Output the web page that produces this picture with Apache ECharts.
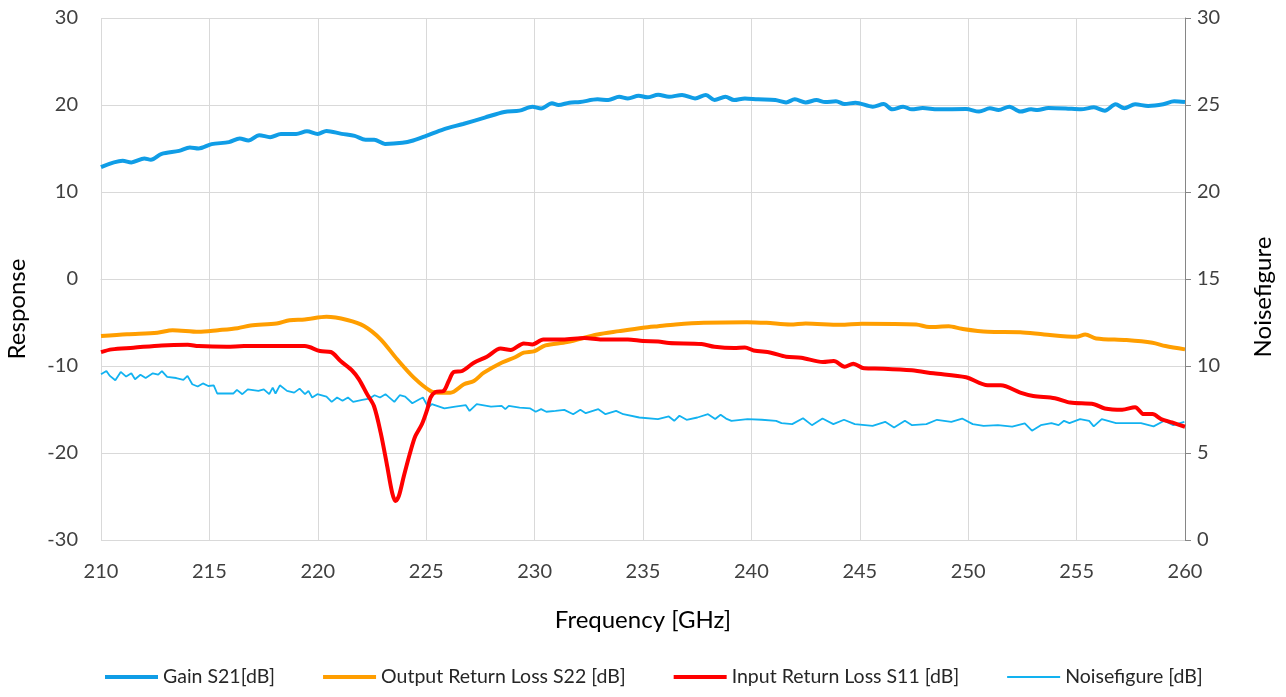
<!DOCTYPE html>
<html>
<head>
<meta charset="utf-8">
<script src="https://cdn.jsdelivr.net/npm/echarts@6/dist/echarts.min.js"></script>
<style>
html,body{margin:0;padding:0;background:#fff;}
#chart{width:1286px;height:697px;}
</style>
</head>
<body>
<div id="chart"></div>
<script>
const seriesNames = ["Gain S21[dB]", "Output Return Loss S22 [dB]", "Input Return Loss S11 [dB]", "Noisefigure [dB]"];
const xTicks = [210, 215, 220, 225, 230, 235, 240, 245, 250, 255, 260];

const gainFreq = [210,211.0,211.4,212.0,212.3,212.8,213.6,214.1,214.5,215.1,215.9,216.4,216.8,217.3,217.8,218.3,219.0,219.5,220.0,220.4,221.1,221.7,222.2,222.6,223.1,223.9,224.4,225.0,225.8,226.7,227.7,228.6,229.3,229.9,230.3,230.8,231.1,231.6,232.1,232.9,233.4,233.9,234.3,234.8,235.2,235.7,236.2,236.8,237.4,237.9,238.3,238.8,239.2,239.7,240.3,241.1,241.6,242.0,242.5,243.0,243.4,243.9,244.3,244.8,245.6,246.1,246.5,247.0,247.4,247.9,248.6,249.9,250.5,251.0,251.4,251.9,252.4,252.9,253.2,253.7,254.5,255.2,255.8,256.3,256.8,257.2,257.7,258.3,259.0,259.5,260.0];
const gainVal  = [12.86,13.59,13.4,13.85,13.7,14.39,14.73,15.11,15.0,15.5,15.73,16.15,15.92,16.53,16.3,16.68,16.68,16.98,16.68,17.02,16.68,16.45,16.0,16.0,15.53,15.65,15.92,16.45,17.2,17.82,18.55,19.2,19.35,19.8,19.6,20.2,20.0,20.27,20.34,20.65,20.57,20.95,20.76,21.07,20.88,21.18,20.95,21.15,20.76,21.15,20.57,20.95,20.57,20.76,20.65,20.57,20.3,20.65,20.3,20.57,20.34,20.42,20.11,20.27,19.81,20.11,19.5,19.81,19.5,19.66,19.5,19.54,19.24,19.62,19.43,19.81,19.24,19.5,19.43,19.66,19.6,19.5,19.73,19.35,20.08,19.62,20.08,19.89,20.08,20.42,20.34];

const s22Freq = [210,211.2,212.6,213.3,214.5,215.4,216.3,216.9,218.1,218.7,219.4,220.4,221.36,222.13,222.9,223.66,224.43,225.2,225.66,226.12,226.74,227.2,227.66,228.5,229.1,229.5,230.0,230.5,231.5,232.9,233.9,235.0,235.7,236.5,237.8,239.8,240.7,241.8,242.5,244.1,245.1,247.6,248.2,249.1,249.7,250.9,252.4,253.5,255.0,255.4,255.9,257.3,258.5,259.1,260.0];
const s22Val  = [-6.56,-6.34,-6.18,-5.88,-6.07,-5.88,-5.65,-5.34,-5.11,-4.73,-4.66,-4.35,-4.71,-5.4,-6.93,-9.23,-11.34,-12.87,-13.07,-13.07,-12.1,-11.72,-10.77,-9.6,-9.0,-8.47,-8.28,-7.63,-7.25,-6.37,-5.99,-5.6,-5.42,-5.23,-5.04,-4.96,-5.04,-5.23,-5.11,-5.27,-5.15,-5.23,-5.53,-5.42,-5.73,-6.07,-6.11,-6.37,-6.64,-6.37,-6.83,-7.02,-7.33,-7.71,-8.09];

const s11Freq = [210,210.5,211.5,212.8,214.0,214.5,215.8,216.6,217.8,219.4,220.1,220.6,221.05,221.6,221.9,222.28,222.59,222.9,223.2,223.43,223.59,223.74,223.97,224.28,224.5,224.8,225.05,225.2,225.43,225.8,226.04,226.27,226.66,227.2,227.8,228.43,228.9,229.5,229.9,230.4,231.3,232.3,233.1,234.3,235.0,235.7,236.2,237.7,238.3,239.2,239.7,240.1,240.9,241.6,242.3,243.3,243.8,244.3,244.7,245.2,246.1,247.4,248.4,249.9,250.9,251.5,252.4,253.0,254.0,254.7,255.8,256.3,257.1,257.7,258.1,258.5,258.9,259.4,260.0];
const s11Val  = [-8.4,-8.09,-7.9,-7.63,-7.56,-7.71,-7.79,-7.71,-7.71,-7.71,-8.28,-8.39,-9.43,-10.57,-11.53,-13.26,-14.6,-17.66,-21.5,-24.56,-25.52,-24.94,-22.64,-19.77,-18.05,-16.7,-14.98,-13.64,-12.99,-12.87,-11.72,-10.69,-10.57,-9.62,-8.93,-8.0,-8.16,-7.4,-7.52,-6.95,-6.95,-6.79,-6.95,-6.95,-7.14,-7.18,-7.37,-7.48,-7.79,-7.94,-7.86,-8.21,-8.47,-8.93,-9.05,-9.54,-9.43,-10.08,-9.73,-10.27,-10.31,-10.5,-10.84,-11.3,-12.21,-12.21,-13.05,-13.44,-13.7,-14.2,-14.39,-14.89,-15.04,-14.73,-15.53,-15.53,-16.1,-16.49,-16.98];

const nfFreq = [210.0,210.25,210.41,210.66,210.91,211.16,211.4,211.57,211.82,212.06,212.39,212.64,212.81,213.05,213.47,213.8,213.99,214.21,214.46,214.7,214.95,215.2,215.36,216.11,216.27,216.52,216.77,217.26,217.51,217.76,217.92,218.05,218.25,218.58,218.91,219.16,219.41,219.57,219.74,219.98,220.4,220.64,220.89,221.14,221.39,221.63,222.05,222.38,222.62,222.87,223.12,223.53,223.78,224.03,224.36,224.69,224.85,225.1,225.26,225.84,226.34,226.83,227.0,227.33,227.99,228.48,228.65,228.81,229.31,229.8,230.05,230.3,230.54,230.96,231.37,231.78,232.11,232.36,232.94,233.27,233.76,234.09,234.83,235.69,236.19,236.44,236.68,237.01,237.51,238.0,238.33,238.58,238.83,239.08,239.82,240.48,241.14,241.39,241.88,242.38,242.79,243.28,243.78,244.27,244.77,245.59,246.17,246.58,247.08,247.41,248.07,248.56,249.22,249.72,250.21,250.71,251.37,252.03,252.61,252.94,253.35,253.84,254.17,254.42,254.67,255.16,255.58,255.79,256.16,256.82,257.97,258.55,259.04,259.46,259.97];
const nfVal  = [9.52,9.71,9.43,9.18,9.66,9.39,9.58,9.24,9.5,9.31,9.58,9.5,9.71,9.37,9.31,9.2,9.43,8.95,8.82,9.0,8.85,8.89,8.42,8.42,8.63,8.38,8.66,8.57,8.66,8.38,8.76,8.42,8.89,8.57,8.47,8.7,8.38,8.57,8.19,8.38,8.24,7.94,8.19,8.0,8.19,7.94,8.05,8.13,8.32,8.19,8.38,7.94,8.32,8.24,7.86,8.09,8.19,7.61,7.81,7.56,7.67,7.75,7.42,7.81,7.67,7.71,7.52,7.71,7.61,7.56,7.37,7.52,7.37,7.42,7.48,7.23,7.48,7.29,7.52,7.23,7.42,7.23,7.04,6.95,7.1,6.85,7.14,6.91,7.04,7.23,6.95,7.2,6.98,6.85,6.95,6.91,6.85,6.72,6.66,7.0,6.6,6.98,6.66,6.91,6.66,6.56,6.79,6.47,6.85,6.6,6.66,6.91,6.79,6.98,6.66,6.56,6.6,6.51,6.7,6.28,6.6,6.72,6.6,6.85,6.72,6.95,6.85,6.53,6.95,6.72,6.72,6.53,6.85,6.6,6.79];

function zip(xs, ys) {
  const n = Math.min(xs.length, ys.length);
  const out = [];
  for (let i = 0; i < n; i++) out.push([xs[i], ys[i]]);
  return out;
}

const FONT = 'Lato, "Open Sans", sans-serif';
const THICK_ICON = 'path://M0,0 M0,3 L53,3 L53,7 L0,7 Z M53,10';
const THIN_ICON = 'path://M0,0 M0,4 L53,4 L53,6 L0,6 Z M53,10';

const chart = echarts.init(document.getElementById('chart'), null, {renderer: 'canvas'});
chart.setOption({
  backgroundColor: '#fff',
  animation: false,
  textStyle: {fontFamily: FONT},
  grid: {left: 101, right: 101, top: 18, bottom: 157, containLabel: false, outerBoundsMode: 'none'},
  legend: {
    data: [
      {name: seriesNames[0], icon: THICK_ICON},
      {name: seriesNames[1], icon: THICK_ICON},
      {name: seriesNames[2], icon: THICK_ICON},
      {name: seriesNames[3], icon: THIN_ICON}
    ],
    bottom: 5,
    left: 100,
    itemWidth: 53,
    itemHeight: 10,
    itemGap: 48,
    textStyle: {fontSize: 19.5, color: '#262626', fontFamily: FONT}
  },
  xAxis: {
    type: 'value', min: 210, max: 260, interval: 5,
    name: 'Frequency [GHz]', nameLocation: 'middle', nameGap: 68,
    nameTextStyle: {fontSize: 24, color: '#000', fontFamily: FONT},
    axisLine: {show: true, lineStyle: {color: '#d9d9d9'}},
    axisTick: {show: false},
    axisLabel: {fontSize: 20, color: '#404040', margin: 22, formatter: v => xTicks.indexOf(v) >= 0 ? String(v) : ''},
    splitLine: {show: true, lineStyle: {color: '#d9d9d9', width: 1}}
  },
  yAxis: [{
    type: 'value', min: -30, max: 30, interval: 10, position: 'left',
    name: 'Response', nameLocation: 'middle', nameGap: 72, nameRotate: 90,
    nameTextStyle: {fontSize: 24, color: '#000', fontFamily: FONT, padding: [0, 60, 0, 0]},
    axisLine: {show: false}, axisTick: {show: false},
    axisLabel: {fontSize: 20, color: '#404040', margin: 23},
    splitLine: {show: true, lineStyle: {color: '#d9d9d9', width: 1}}
  }, {
    type: 'value', min: 0, max: 30, interval: 5, position: 'right',
    name: 'Noisefigure', nameLocation: 'middle', nameGap: 66, nameRotate: 90,
    nameTextStyle: {fontSize: 24, color: '#000', fontFamily: FONT, padding: [0, 36, 0, 0]},
    axisLine: {show: true, lineStyle: {color: '#868686'}},
    axisTick: {show: true, inside: false, length: 6, lineStyle: {color: '#868686'}},
    axisLabel: {fontSize: 20, color: '#404040', margin: 12},
    splitLine: {show: false}
  }],
  series: [{
    name: seriesNames[0], type: 'line', yAxisIndex: 0, z: 3,
    data: zip(gainFreq, gainVal), showSymbol: false, symbol: 'none', smooth: 0.3,
    lineStyle: {color: '#109de6', width: 4}, itemStyle: {color: '#109de6'}
  }, {
    name: seriesNames[1], type: 'line', yAxisIndex: 0, z: 4,
    data: zip(s22Freq, s22Val), showSymbol: false, symbol: 'none', smooth: 0.3,
    lineStyle: {color: '#ff9e00', width: 4}, itemStyle: {color: '#ff9e00'}
  }, {
    name: seriesNames[2], type: 'line', yAxisIndex: 0, z: 5,
    data: zip(s11Freq, s11Val), showSymbol: false, symbol: 'none', smooth: 0.3,
    lineStyle: {color: '#ff0000', width: 4}, itemStyle: {color: '#ff0000'}
  }, {
    name: seriesNames[3], type: 'line', yAxisIndex: 1, z: 2,
    data: zip(nfFreq, nfVal), showSymbol: false, symbol: 'none', smooth: false,
    lineStyle: {color: '#12b2f0', width: 1.8}, itemStyle: {color: '#12b2f0'}
  }]
});
</script>
</body>
</html>
